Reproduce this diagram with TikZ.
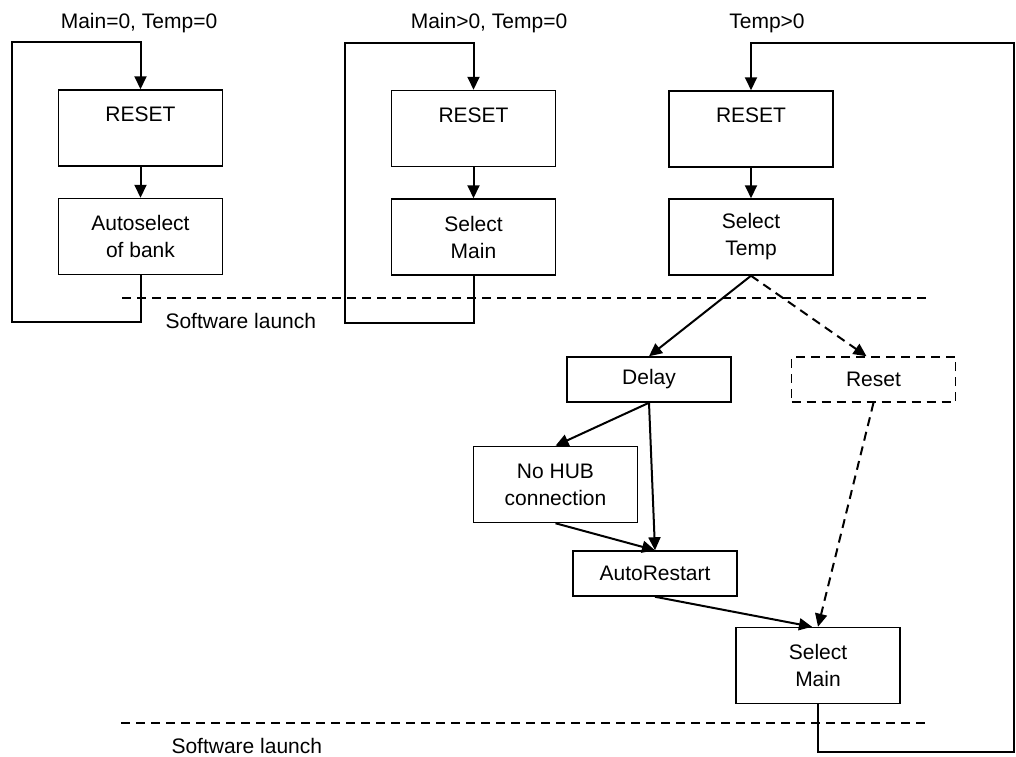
\documentclass[tikz,border=0pt]{standalone}
\usepackage{fontspec}
\setmainfont{Liberation Sans}
\usetikzlibrary{arrows.meta}
\tikzset{
    state-box/.style = {draw=black, fill=white, line width=1.5pt, rectangle, align=center, inner sep=0pt, minimum width=164pt, font=\fontsize{21}{27}\selectfont},
    tall-box/.style = {state-box, minimum height=76pt},
    flat-box/.style = {state-box, minimum height=45pt},
    flow-arrow/.style = {line width=2pt, -{Triangle[length=13pt,width=12pt]}},
    launch-line/.style = {line width=1.3pt, dash pattern=on 9pt off 6pt},
    cond-label/.style = {font=\fontsize{21}{27}\selectfont, anchor=base},
}

\begin{document}
\begin{tikzpicture}[x=1pt, y=-1pt]
\useasboundingbox (0,0) rectangle (1016,756);

\node[cond-label] (cond1) at (139,28) {Main=0, Temp=0};
\node[cond-label] (cond2) at (489,28) {Main>0, Temp=0};
\node[cond-label] (cond3) at (767,28) {Temp>0};

\node[tall-box] (rst1) at (140.5,128) {RESET\\~};
\node[tall-box] (sel1) at (140.5,236.5) {Autoselect\\of bank};
\node[tall-box] (rst2) at (473.5,128.5) {RESET\\~};
\node[tall-box] (sel2) at (473.5,237) {Select\\Main};
\node[tall-box] (rst3) at (751,129) {RESET\\~};
\node[tall-box] (sel3) at (751,237) {Select\\Temp};

\node[flat-box] (delay) at (649,379.5) {Delay};
\node[flat-box, dash pattern=on 9pt off 6pt] (reset) at (873.5,379.5) {Reset};
\node[tall-box] (nohub) at (555.5,484.5) {No HUB\\connection};
\node[flat-box] (autorst) at (655,573.5) {AutoRestart};
\node[tall-box] (selmain) at (818,665.5) {Select\\Main};

\draw[launch-line] (122,298) -- (928,298);
\draw[launch-line] (121,723) -- (927,723);
\node[cond-label, anchor=base west] (launch1) at (162,328) {Software launch};
\node[cond-label, anchor=base west] (launch2) at (168,753) {Software launch};

\draw[flow-arrow] (rst1) -- (sel1);
\draw[flow-arrow] (rst2) -- (sel2);
\draw[flow-arrow] (rst3) -- (sel3);
\draw[flow-arrow] (sel1.south) -- ++(0,47) -| (12,42) -| (rst1.north);
\draw[flow-arrow] (sel2.south) -- ++(0,47) -| (345,43) -| (rst2.north);
\draw[flow-arrow] (selmain.south) -- ++(0,48) -| (1014,43) -| (rst3.north);

\draw[flow-arrow] (sel3.south) -- (delay.north);
\draw[flow-arrow, dash pattern=on 9pt off 6pt] (sel3.south) -- ([xshift=-7pt]reset.north);
\draw[flow-arrow] (delay.south) -- (nohub.north);
\draw[flow-arrow] (delay.south) -- (autorst.north);
\draw[flow-arrow] (nohub.south) -- (autorst.north);
\draw[flow-arrow] (autorst.south) -- ([xshift=-6pt]selmain.north);
\draw[flow-arrow, dash pattern=on 9pt off 6pt] (reset.south) -- (selmain.north);
\end{tikzpicture}
\end{document}
